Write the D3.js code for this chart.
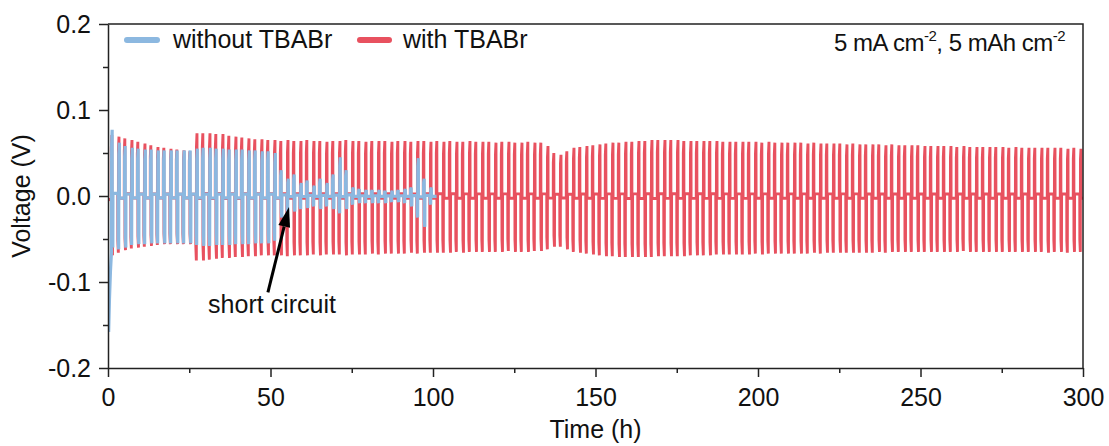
<!DOCTYPE html>
<html lang="en">
<head>
<meta charset="UTF-8">
<title>Voltage profile: with / without TBABr</title>
<script src="https://d3js.org/d3.v7.min.js"></script>
<style>
    body { margin: 0; background: #fff; }
    svg { font-family: Arial, "Liberation Sans", sans-serif; }
    .axis text { font-size: 25px; fill: #111; }
    .axis path, .axis line { stroke: #222; stroke-width: 1.5px; }
</style>
</head>
<body>
<div id="chart"></div>
<script>
    // Time axis ticks (h) and voltage axis ticks (V)
    const timeTicks = [0, 50, 100, 150, 200, 250, 300];
    const timeMinor = [25, 75, 125, 175, 225, 275];
    const voltTicks = [-0.2, -0.1, 0, 0.1, 0.2];
    const voltMinor = [-0.15, -0.05, 0.05, 0.15];

    // one plating/stripping cycle (2 h): [fraction of cycle, relative voltage]
    const cycleHours = 2;
    const cycleShape = [[0, -0.04], [0.012, 0.78], [0.09, 1.0], [0.11, -0.78], [0.19, -1.0], [0.205, 0.04], [1.0, 0.04]];

    // with TBABr: peak voltage of each cycle, mV (150 cycles)
    const redTop = [
        71, 69, 67, 65, 63, 61, 59, 57, 56, 55, 54, 53, 52,
        73, 73, 73, 72, 72,
        70, 69, 68, 67, 66, 66, 65,
        65, 64, 65, 64, 64, 65, 64, 64, 63, 64, 64, 65, 64, 64, 63, 64, 64, 64, 63, 64, 64, 63, 64, 64, 63,
        64, 63, 64, 63, 63, 64, 63, 63, 63, 62, 63, 63, 62, 62, 63, 62, 62,
        58, 50, 48, 52,
        56, 57, 58, 59, 60, 61, 62, 62, 63, 63,
        64, 64, 65, 65, 65, 65, 65, 64, 64, 64, 64, 64, 64, 63, 63,
        63, 63, 63, 63, 62, 63, 62, 62, 62, 62,
        62, 61, 62, 61, 61, 61, 61, 60, 61, 60,
        60, 60, 60, 59, 60, 59, 59, 59, 59, 58,
        58, 58, 58, 58, 57, 58, 57, 57, 57, 57,
        57, 57, 56, 57, 56, 56, 56, 56, 56, 56,
        56, 55, 56, 55
    ];
    const redBottom = [
        69, 66, 63, 61, 60, 59, 58, 57, 56, 56, 56, 56, 56,
        75, 75, 74, 73, 72,
        72, 71, 71, 70, 70, 69, 69,
        69, 69, 70, 69, 69, 69, 68, 69, 68, 68, 68, 69, 68, 68, 68, 67, 68, 67, 67, 67, 67, 66, 67, 66, 66,
        66, 66, 66, 65, 66, 65, 65, 65, 65, 65, 65, 64, 65, 65, 65, 64, 64,
        62, 59, 59, 62,
        65, 66, 67, 68, 69, 70, 70, 71, 71, 71,
        71, 71, 71, 70, 70, 70, 70, 70, 69, 69, 69, 69, 68, 68, 68,
        68, 68, 68, 67, 68, 67, 67, 67, 67, 67,
        67, 67, 66, 67, 66, 66, 66, 66, 66, 66,
        66, 66, 65, 66, 65, 65, 65, 65, 65, 65,
        65, 65, 65, 65, 65, 64, 65, 65, 65, 65,
        65, 65, 65, 65, 65, 65, 65, 65, 66, 65,
        65, 66, 65, 65
    ];
    const redStart = [[0, -5]];

    // without TBABr: 50 cycles, then short circuit
    const blueTop = [
        77, 62, 58, 56, 55, 54, 54, 53, 53, 53, 53, 53, 53,
        55, 56, 56, 55, 55, 54, 54, 54, 53, 53, 52, 52,
        50, 30, 20, 25, 15, 18, 12, 20, 15, 25, 45, 30, 10,
        8, 7, 7, 7, 6, 6, 7, 8, 10,
        44, 20, 10
    ];
    const blueBottom = [
        60, 62, 60, 57, 56, 56, 55, 55, 55, 55, 55, 55, 55,
        57, 58, 58, 57, 57, 57, 56, 56, 56, 55, 55, 55,
        52, 25, 20, 18, 15, 14, 12, 15, 12, 15, 20, 15, 10,
        8, 8, 8, 8, 8, 7, 7, 8, 12,
        25, 36, 10
    ];
    const blueStart = [[0.2, -158], [0.45, -120], [0.75, -88], [1.05, -66]];

    const width = 1109, height = 446;
    const x = d3.scaleLinear().domain([0, 300]).range([108, 1083]);
    const y = d3.scaleLinear().domain([-0.2, 0.2]).range([368, 24]);

    const svg = d3.select("#chart").append("svg")
        .attr("width", width)
        .attr("height", height);

    svg.append("clipPath").attr("id", "plot-clip")
        .append("rect")
        .attr("x", x(0)).attr("y", y(0.2))
        .attr("width", x(300) - x(0)).attr("height", y(-0.2) - y(0.2));

    function buildSeries(tops, bottoms, firstCycleH, start) {
        const pts = start.map(([t, mv]) => [t, mv / 1000]);
        tops.forEach((top, k) => {
            const t0 = firstCycleH + k * cycleHours;
            const flip = k % 2 ? -1 : 1;
            cycleShape.forEach(([p, rel]) => {
                const v = rel * flip;
                pts.push([t0 + p * cycleHours, (v > 0 ? v * top : v * bottoms[k]) / 1000]);
            });
        });
        return pts;
    }

    const line = d3.line().x(d => x(d[0])).y(d => y(d[1]));

    const plot = svg.append("g").attr("clip-path", "url(#plot-clip)");
    plot.append("path")
        .datum(buildSeries(redTop, redBottom, 1.0, redStart))
        .attr("d", line)
        .attr("fill", "none")
        .attr("stroke", "#e8515f")
        .attr("stroke-width", 2.9);
    plot.append("path")
        .datum(buildSeries(blueTop, blueBottom, 1.1, blueStart))
        .attr("d", line)
        .attr("fill", "none")
        .attr("stroke", "#8cb8e0")
        .attr("stroke-width", 3.2);

    // frame top and right
    svg.append("path")
        .attr("d", `M${x(0)},${y(0.2)}H${x(300)}V${y(-0.2)}`)
        .attr("fill", "none")
        .attr("stroke", "#222")
        .attr("stroke-width", 1.5);

    // axes
    svg.append("g").attr("class", "axis")
        .attr("transform", `translate(0,${y(-0.2)})`)
        .call(d3.axisBottom(x).tickValues(timeMinor).tickSize(5).tickFormat(""))
        .call(g => g.select(".domain").remove());
    svg.append("g").attr("class", "axis")
        .attr("transform", `translate(0,${y(-0.2)})`)
        .call(d3.axisBottom(x).tickValues(timeTicks).tickSize(9).tickSizeOuter(0).tickPadding(11).tickFormat(d3.format("d")));

    svg.append("g").attr("class", "axis")
        .attr("transform", `translate(${x(0)},0)`)
        .call(d3.axisLeft(y).tickValues(voltMinor).tickSize(5).tickFormat(""))
        .call(g => g.select(".domain").remove());
    svg.append("g").attr("class", "axis")
        .attr("transform", `translate(${x(0)},0)`)
        .call(d3.axisLeft(y).tickValues(voltTicks).tickSize(9).tickSizeOuter(0).tickPadding(8).tickFormat(d => d.toFixed(1)));

    // axis titles
    svg.append("text")
        .attr("x", x(150)).attr("y", 438)
        .attr("text-anchor", "middle")
        .attr("font-size", 25).attr("fill", "#111")
        .text("Time (h)");
    svg.append("text")
        .attr("transform", `translate(30,${y(0)}) rotate(-90)`)
        .attr("text-anchor", "middle")
        .attr("font-size", 25).attr("fill", "#111")
        .text("Voltage (V)");

    // legend
    const legend = [
        { label: "without TBABr", color: "#8cb8e0", x0: 127, x1: 157, tx: 173 },
        { label: "with TBABr", color: "#e8515f", x0: 360, x1: 389, tx: 403 }
    ];
    legend.forEach(d => {
        svg.append("line")
            .attr("x1", d.x0).attr("x2", d.x1).attr("y1", 40).attr("y2", 40)
            .attr("stroke", d.color).attr("stroke-width", 6).attr("stroke-linecap", "round");
        svg.append("text")
            .attr("x", d.tx).attr("y", 48)
            .attr("font-size", 25).attr("fill", "#111")
            .text(d.label);
    });

    // condition label
    const cond = svg.append("text")
        .attr("x", 1065).attr("y", 51)
        .attr("text-anchor", "end")
        .attr("font-size", 24).attr("letter-spacing", -0.5).attr("fill", "#111");
    cond.append("tspan").text("5 mA cm");
    cond.append("tspan").attr("dy", -10).attr("font-size", 15).text("-2");
    cond.append("tspan").attr("dy", 10).text(", 5 mAh cm");
    cond.append("tspan").attr("dy", -10).attr("font-size", 15).text("-2");

    // short circuit annotation
    const tail = [x(49.2), y(-0.112)], tip = [x(55.7), y(-0.0128)];
    const ang = Math.atan2(tip[1] - tail[1], tip[0] - tail[0]);
    const headLen = 20, headHalf = 6;
    const base = [tip[0] - headLen * Math.cos(ang), tip[1] - headLen * Math.sin(ang)];
    svg.append("line")
        .attr("x1", tail[0]).attr("y1", tail[1])
        .attr("x2", base[0]).attr("y2", base[1])
        .attr("stroke", "#000").attr("stroke-width", 3);
    svg.append("path")
        .attr("d", `M${tip[0]},${tip[1]}` +
            `L${base[0] + headHalf * Math.sin(ang)},${base[1] - headHalf * Math.cos(ang)}` +
            `L${base[0] - headHalf * Math.sin(ang)},${base[1] + headHalf * Math.cos(ang)}Z`)
        .attr("fill", "#000");
    svg.append("text")
        .attr("x", x(30.8)).attr("y", y(-0.136))
        .attr("font-size", 25).attr("fill", "#111")
        .text("short circuit");
</script>
</body>
</html>
